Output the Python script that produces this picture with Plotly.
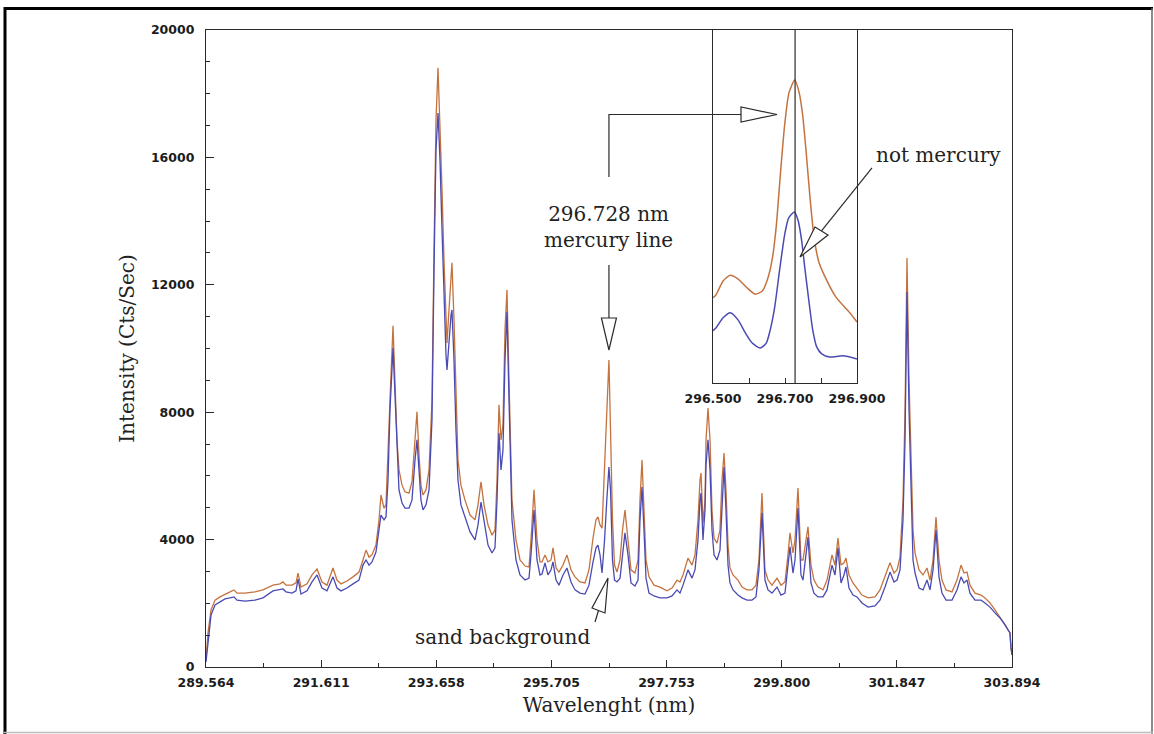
import plotly.graph_objects as go

# ---------------------------------------------------------------------------
# Emission spectra: wavelength (nm) and intensity (counts / s)
# ---------------------------------------------------------------------------
wavelength_nm = [
    289.564, 289.600, 289.653, 289.724, 289.813, 289.902, 289.991, 290.062, 290.115, 290.257,
    290.435, 290.577, 290.755, 290.880, 290.933, 290.986, 291.093, 291.164, 291.200, 291.253,
    291.360, 291.449, 291.538, 291.626, 291.715, 291.822, 291.893, 291.964, 292.071, 292.178,
    292.284, 292.355, 292.409, 292.462, 292.515, 292.586, 292.640, 292.675, 292.729, 292.764,
    292.800, 292.835, 292.889, 292.924, 292.960, 292.995, 293.049, 293.102, 293.173, 293.226,
    293.280, 293.315, 293.351, 293.386, 293.422, 293.475, 293.529, 293.582, 293.618, 293.653,
    293.689, 293.724, 293.760, 293.795, 293.831, 293.849, 293.884, 293.920, 293.937, 293.973,
    294.008, 294.044, 294.097, 294.169, 294.258, 294.347, 294.400, 294.453, 294.507, 294.578,
    294.649, 294.702, 294.738, 294.773, 294.809, 294.844, 294.880, 294.915, 294.951, 295.004,
    295.075, 295.147, 295.236, 295.307, 295.342, 295.396, 295.449, 295.502, 295.538, 295.591,
    295.644, 295.698, 295.733, 295.787, 295.840, 295.911, 295.982, 296.053, 296.124, 296.213,
    296.302, 296.373, 296.445, 296.498, 296.533, 296.569, 296.605, 296.650, 296.690, 296.728,
    296.756, 296.791, 296.827, 296.871, 296.925, 296.969, 297.013, 297.067, 297.120, 297.191,
    297.245, 297.280, 297.316, 297.351, 297.387, 297.440, 297.529, 297.636, 297.760, 297.849,
    297.938, 297.991, 298.045, 298.133, 298.205, 298.258, 298.311, 298.347, 298.365, 298.400,
    298.436, 298.454, 298.489, 298.525, 298.560, 298.596, 298.649, 298.702, 298.738, 298.774,
    298.809, 298.845, 298.880, 298.934, 299.022, 299.094, 299.182, 299.271, 299.342, 299.395,
    299.449, 299.502, 299.556, 299.627, 299.716, 299.787, 299.858, 299.911, 299.947, 300.000,
    300.036, 300.089, 300.142, 300.178, 300.231, 300.267, 300.320, 300.373, 300.445, 300.534,
    300.605, 300.658, 300.694, 300.747, 300.800, 300.854, 300.907, 300.942, 300.996, 301.067,
    301.138, 301.227, 301.334, 301.458, 301.547, 301.636, 301.725, 301.796, 301.850, 301.903,
    301.956, 301.992, 302.027, 302.063, 302.098, 302.134, 302.170, 302.241, 302.312, 302.383,
    302.436, 302.490, 302.543, 302.596, 302.649, 302.721, 302.827, 302.916, 302.988, 303.041,
    303.094, 303.147, 303.236, 303.343, 303.414, 303.503, 303.592, 303.681, 303.770, 303.823,
    303.858, 303.876, 303.894,
]

# sand spiked with mercury (upper trace)
spiked_cps = [
    220, 1070, 1790, 2100, 2200, 2290, 2360, 2420, 2320, 2320,
    2360, 2420, 2570, 2610, 2670, 2570, 2570, 2640, 2950, 2510,
    2610, 2890, 3080, 2670, 2570, 3110, 2730, 2610, 2700, 2830,
    2980, 3360, 3670, 3450, 3520, 3830, 4620, 5400, 4990, 5090,
    6500, 8380, 10710, 9010, 7130, 6190, 5710, 5500, 5460, 5810,
    7130, 8010, 6660, 5710, 5400, 5560, 6190, 8380, 13090, 17180,
    18810, 17180, 14980, 12780, 10900, 10170, 11210, 12530, 12690, 10900,
    8380, 6500, 5710, 5240, 4770, 4620, 5090, 5810, 5090, 4460,
    4140, 4300, 5870, 8230, 7130, 7600, 10580, 11840, 9010, 5240,
    3990, 3360, 3170, 3140, 3990, 5560, 3990, 3300, 3300, 3520,
    3300, 3360, 3740, 3110, 2980, 3200, 3520, 3050, 2830, 2670,
    2640, 3050, 4050, 4620, 4710, 4460, 4360, 6190, 7760, 9640,
    7440, 4620, 3200, 2980, 3360, 4300, 4930, 3990, 3050, 2950,
    3360, 5240, 6500, 4930, 3360, 2830, 2570, 2510, 2390, 2480,
    2730, 2670, 2890, 3420, 3200, 3520, 4620, 5870, 6090, 4520,
    5240, 7130, 8130, 7130, 4930, 4050, 3890, 4300, 5870, 6720,
    5560, 3830, 3110, 2890, 2730, 2510, 2420, 2420, 2570, 3360,
    5460, 3050, 2730, 2570, 2790, 2570, 2670, 3520, 4210, 3580,
    3990, 5620, 3360, 3360, 3990, 4400, 3200, 2730, 2510, 2420,
    2730, 3200, 3520, 3200, 4050, 3200, 3270, 3420, 2890, 2640,
    2480, 2260, 2170, 2200, 2420, 2830, 3270, 2950, 3050, 3450,
    5240, 7980, 12840, 9010, 6190, 4300, 3580, 3050, 2890, 3110,
    2730, 3360, 4710, 3360, 2730, 2420, 2360, 2730, 3200, 2950,
    2980, 2570, 2320, 2260, 2170, 2010, 1790, 1570, 1320, 1160,
    1070, 600, 380,
]

# clean sand background (lower trace)
background_cps = [
    160, 850, 1630, 1950, 2040, 2140, 2170, 2200, 2100, 2070,
    2100, 2170, 2390, 2420, 2450, 2360, 2320, 2390, 2760, 2290,
    2390, 2670, 2890, 2480, 2390, 2830, 2480, 2390, 2480, 2610,
    2730, 3200, 3360, 3200, 3300, 3610, 4300, 4770, 4620, 4710,
    5870, 8070, 10020, 8540, 6660, 5560, 5150, 4990, 4990, 5240,
    6500, 7130, 6190, 5240, 4930, 5090, 5560, 7760, 12470, 16230,
    17390, 15920, 13720, 11520, 9800, 9330, 10270, 11050, 11210, 9640,
    7440, 5870, 5090, 4710, 4240, 3990, 4460, 5180, 4620, 3830,
    3580, 3740, 5240, 7350, 6190, 6810, 9640, 11150, 8380, 4620,
    3360, 2890, 2730, 2790, 3520, 4930, 3360, 2890, 2920, 3270,
    2890, 3050, 3300, 2730, 2570, 2890, 3110, 2670, 2420, 2320,
    2290, 2570, 3300, 3740, 3830, 3520, 2950, 3990, 5240, 6280,
    5560, 3360, 2730, 2670, 2790, 3520, 4210, 3520, 2640, 2540,
    2730, 4620, 5650, 4300, 2790, 2320, 2230, 2170, 2170, 2230,
    2420, 2320, 2570, 3050, 2790, 3050, 3990, 5240, 5460, 3990,
    4930, 6340, 7130, 6190, 4300, 3520, 3360, 3670, 5240, 6280,
    4930, 3200, 2640, 2420, 2260, 2170, 2100, 2100, 2200, 3050,
    4840, 2730, 2420, 2320, 2510, 2260, 2320, 3200, 3770, 2950,
    3360, 4990, 2890, 2730, 3520, 4080, 2640, 2320, 2200, 2200,
    2420, 2830, 3200, 2890, 3740, 2640, 2890, 3140, 2480, 2260,
    2200, 2010, 1880, 1920, 2100, 2510, 2980, 2670, 2730, 3050,
    4620, 7130, 11770, 8070, 5240, 3360, 2950, 2480, 2420, 2730,
    2420, 3050, 4300, 2830, 2320, 2100, 2100, 2420, 2830, 2640,
    2730, 2320, 2100, 2100, 2010, 1880, 1700, 1540, 1320, 1160,
    1070, 600, 380,
]

# zoomed window around the mercury line
zoom_wl_spiked = [
    296.500, 296.508, 296.528, 296.548, 296.570, 296.595, 296.617, 296.637, 296.651, 296.665,
    296.676, 296.687, 296.699, 296.711, 296.727, 296.739, 296.749, 296.759, 296.770, 296.781,
    296.794, 296.810, 296.841, 296.880, 296.900,
]
zoom_spiked = [
    4100, 4170, 4530, 4680, 4580, 4350, 4190, 4270, 4560, 5120,
    5970, 7260, 8550, 9380, 9710, 9400, 8810, 7830, 6620, 5640,
    5020, 4660, 4120, 3710, 3470,
]
zoom_wl_background = [
    296.500, 296.508, 296.528, 296.548, 296.570, 296.590, 296.609, 296.631, 296.648, 296.659,
    296.671, 296.685, 296.699, 296.710, 296.726, 296.736, 296.746, 296.755, 296.766, 296.777,
    296.788, 296.802, 296.824, 296.861, 296.900,
]
zoom_background = [
    3250, 3320, 3580, 3710, 3520, 3190, 2930, 2800, 2930, 3270,
    3830, 4810, 5720, 6150, 6310, 6100, 5590, 4870, 4040, 3270,
    2830, 2650, 2570, 2600, 2520,
]

x_tick_labels = ["289.564", "291.611", "293.658", "295.705",
                 "297.753", "299.800", "301.847", "303.894"]
y_tick_labels = ["0", "4000", "8000", "12000", "16000", "20000"]
zoom_tick_labels = ["296.500", "296.700", "296.900"]
HG_LINE_NM = 296.728

assert len(wavelength_nm) == len(spiked_cps) == len(background_cps)
assert len(zoom_wl_spiked) == len(zoom_spiked)
assert len(zoom_wl_background) == len(zoom_background)

# ---------------------------------------------------------------------------
# Styling
# ---------------------------------------------------------------------------
W, H = 1154, 734
PLOT_L, PLOT_R, PLOT_T, PLOT_B = 206, 1012, 30, 667
ORANGE = "#c4733f"
BLUE = "#4a4ab4"
INK = "#2b2b2b"
TICK_FONT = dict(family="DejaVu Sans", size=12.5, color="#1c1c1c", weight="bold")
SERIF = dict(family="DejaVu Serif", size=20, color="#222222")

x_vals = [float(t) for t in x_tick_labels]
y_vals = [float(t) for t in y_tick_labels]
zoom_vals = [float(t) for t in zoom_tick_labels]
X_MIN, X_MAX = x_vals[0], x_vals[-1]


def px(x):
    """Figure pixel column -> paper x."""
    return (x - PLOT_L) / (PLOT_R - PLOT_L)


def py(y):
    """Figure pixel row -> paper y."""
    return (PLOT_B - y) / (PLOT_B - PLOT_T)


def path(points, close=False):
    s = "M " + " L ".join(f"{px(x):.5f},{py(y):.5f}" for x, y in points)
    return s + (" Z" if close else "")


# pixel column of the mercury line on the main axis
hg_px = PLOT_L + (HG_LINE_NM - X_MIN) / (X_MAX - X_MIN) * (PLOT_R - PLOT_L)

# inset placement (pixels)
INS_L, INS_R, INS_B = 713, 857, 383

fig = go.Figure()

fig.add_trace(go.Scatter(x=wavelength_nm, y=spiked_cps, mode="lines",
                         line=dict(color=ORANGE, width=1.3), name="Hg-spiked sand",
                         xaxis="x", yaxis="y", showlegend=False))
fig.add_trace(go.Scatter(x=wavelength_nm, y=background_cps, mode="lines",
                         line=dict(color=BLUE, width=1.3), name="sand background",
                         xaxis="x", yaxis="y", showlegend=False))
fig.add_trace(go.Scatter(x=zoom_wl_spiked, y=zoom_spiked, mode="lines",
                         line=dict(color=ORANGE, width=1.5, shape="spline", smoothing=0.6),
                         xaxis="x2", yaxis="y2", showlegend=False))
fig.add_trace(go.Scatter(x=zoom_wl_background, y=zoom_background, mode="lines",
                         line=dict(color=BLUE, width=1.5, shape="spline", smoothing=0.6),
                         xaxis="x2", yaxis="y2", showlegend=False))

x_minor = [(a + b) / 2 for a, b in zip(x_vals, x_vals[1:])]
y_minor = [v for v in range(1000, 20000, 1000) if v % 4000]

axis_common = dict(showline=True, linecolor=INK, linewidth=1.2, mirror=True,
                   showgrid=False, zeroline=False, ticks="inside", tickcolor=INK,
                   tickwidth=1, automargin=False, tickfont=TICK_FONT)

fig.update_layout(
    width=W, height=H, template="none",
    paper_bgcolor="white", plot_bgcolor="white",
    margin=dict(l=PLOT_L, r=W - PLOT_R, t=PLOT_T, b=H - PLOT_B, pad=0),
    font=dict(family="DejaVu Sans", color=INK),
    xaxis=dict(domain=[0, 1], range=[X_MIN, X_MAX], anchor="y",
               tickmode="array", tickvals=x_vals, ticktext=x_tick_labels, ticklen=7,
               ticklabelstandoff=4,
               minor=dict(tickmode="array", tickvals=x_minor, ticks="inside",
                          ticklen=4, tickcolor=INK, showgrid=False),
               title=dict(text="Wavelenght (nm)", font=SERIF, standoff=8),
               **axis_common),
    yaxis=dict(domain=[0, 1], range=[0, 20000], anchor="x",
               tickmode="array", tickvals=y_vals, ticktext=y_tick_labels, ticklen=8,
               ticklabelstandoff=8,
               minor=dict(tickmode="array", tickvals=y_minor, ticks="inside",
                          ticklen=4, tickcolor=INK, showgrid=False),
               title=dict(text="Intensity (Cts/Sec)", font=SERIF, standoff=10),
               **axis_common),
    xaxis2=dict(domain=[px(INS_L), px(INS_R)], range=[zoom_vals[0], zoom_vals[-1]],
                anchor="y2", tickmode="array", tickvals=zoom_vals,
                ticktext=zoom_tick_labels, ticklen=5, ticklabelstandoff=4,
                minor=dict(tickmode="array", tickvals=[296.6, 296.8], ticks="inside",
                           ticklen=5, tickcolor=INK, showgrid=False),
                **axis_common),
    yaxis2=dict(domain=[py(INS_B), 1], range=[1900, 11000], anchor="x2",
                showticklabels=False, showline=True, linecolor=INK, linewidth=1.2,
                mirror=True, showgrid=False, zeroline=False, ticks=""),
)

# annotation leaders and open arrowheads
leader = dict(color=INK, width=1.2)
shapes = [
    # 296.728 nm: up to the zoom window ...
    dict(type="path", path=path([(hg_px, 177), (hg_px, 114.5), (741, 114.5)]), line=leader),
    dict(type="path", path=path([(741, 107), (741, 122), (777, 114.5)], close=True),
         line=leader, fillcolor="white"),
    # ... and down to the peak
    dict(type="path", path=path([(hg_px, 265), (hg_px, 318)]), line=leader),
    dict(type="path", path=path([(hg_px - 7.5, 318), (hg_px + 7.5, 318), (hg_px, 350)], close=True),
         line=leader, fillcolor="white"),
    # not mercury
    dict(type="path", path=path([(872, 168), (821.5, 231)]), line=leader),
    dict(type="path", path=path([(815, 227), (828, 235), (800, 257)], close=True),
         line=leader, fillcolor="white"),
    # sand background
    dict(type="path", path=path([(595, 622), (598.5, 610.5)]), line=leader),
    dict(type="path", path=path([(592, 608), (605, 613), (608, 578)], close=True),
         line=leader, fillcolor="white"),
    # mercury line marker inside the zoom window
    dict(type="line", xref="x2", yref="y2 domain", x0=HG_LINE_NM, x1=HG_LINE_NM,
         y0=0, y1=1, line=dict(color=INK, width=1.2)),
    # page frame
    dict(type="line", x0=px(4), x1=px(1153), y0=py(8.5), y1=py(8.5),
         line=dict(color="black", width=3)),
    dict(type="line", x0=px(5), x1=px(5), y0=py(7), y1=py(734),
         line=dict(color="black", width=3)),
    dict(type="line", x0=px(1152), x1=px(1152), y0=py(8), y1=py(734),
         line=dict(color="#666666", width=1.5)),
    dict(type="line", x0=px(4), x1=px(1153), y0=py(732.5), y1=py(732.5),
         line=dict(color="#bdbdbd", width=1.5)),
]
for s in shapes:
    s.setdefault("xref", "paper")
    s.setdefault("yref", "paper")
    s.setdefault("layer", "above")
    fig.add_shape(**s)

fig.add_annotation(x=px(hg_px), y=py(227.5), xref="paper", yref="paper",
                   text="296.728 nm<br>mercury line", showarrow=False, font=SERIF,
                   xanchor="center", yanchor="middle", align="center")
fig.add_annotation(x=px(938), y=py(155), xref="paper", yref="paper",
                   text="not mercury", showarrow=False, font=SERIF,
                   xanchor="center", yanchor="middle")
fig.add_annotation(x=px(502), y=py(637), xref="paper", yref="paper",
                   text="sand background", showarrow=False, font=SERIF,
                   xanchor="center", yanchor="middle")

fig.write_html("out.html")
